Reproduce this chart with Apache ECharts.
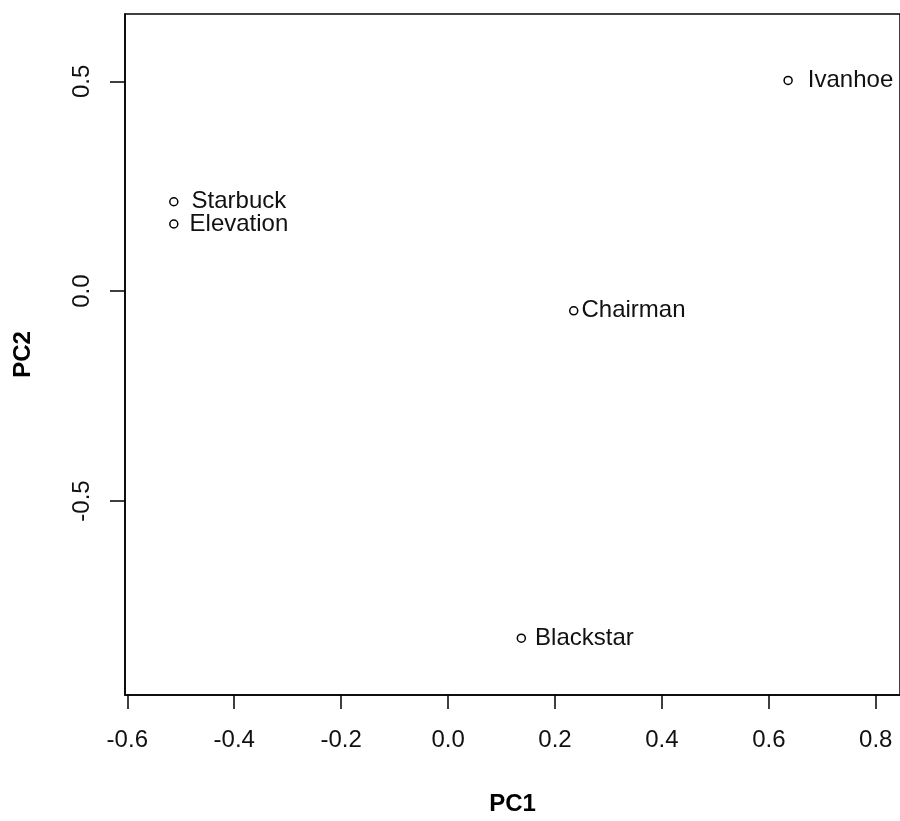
<!DOCTYPE html>
<html>
<head>
<meta charset="utf-8">
<script src="https://cdn.jsdelivr.net/npm/echarts@6/dist/echarts.min.js"></script>
<style>
html,body{margin:0;padding:0;background:#fff;}
#chart{width:900px;height:821px;}
</style>
</head>
<body>
<div id="chart"></div>
<script>
// ---- data ----
const names = ['Ivanhoe', 'Starbuck', 'Elevation', 'Chairman', 'Blackstar'];
const pc1 = [0.636, -0.513, -0.513, 0.235, 0.137];
const pc2 = [0.502, 0.213, 0.160, -0.047, -0.827];
const xTicks = [-0.6, -0.4, -0.2, 0.0, 0.2, 0.4, 0.6, 0.8];
const yTicks = [-0.5, 0.0, 0.5];
const xTitle = 'PC1';
const yTitle = 'PC2';

// ---- styling (label gaps per point) ----
const labelGap = {Ivanhoe: 15, Starbuck: 13, Elevation: 11, Chairman: 3, Blackstar: 9};

const FONT = '"Liberation Sans", Arial, sans-serif';
const points = names.map((n, i) => ({
  name: n,
  value: [pc1[i], pc2[i]],
  label: {distance: labelGap[n]}
}));

const chart = echarts.init(document.getElementById('chart'), null, {renderer: 'canvas'});
chart.setOption({
  animation: false,
  backgroundColor: '#fff',
  grid: {
    left: 125, top: 14, right: -5, bottom: 112,
    show: true, borderColor: '#000', borderWidth: 1.5, backgroundColor: 'transparent',
    containLabel: false
  },
  xAxis: {
    type: 'value',
    min: -0.6043, max: 0.8453,
    name: xTitle, nameLocation: 'middle', nameGap: 97,
    nameTextStyle: {fontFamily: FONT, fontSize: 24, fontWeight: 'bold', color: '#000'},
    axisLine: {show: true, onZero: false, lineStyle: {color: '#000', width: 1.5}},
    axisTick: {show: true, inside: false, length: 14, customValues: xTicks, lineStyle: {color: '#000', width: 1.5}},
    axisLabel: {
      show: true, customValues: xTicks, margin: 33,
      fontFamily: FONT, fontSize: 24, color: '#111',
      formatter: v => v.toFixed(1)
    },
    splitLine: {show: false}
  },
  yAxis: {
    type: 'value',
    min: -0.9624, max: 0.6604,
    name: yTitle, nameLocation: 'middle', nameGap: 90, nameRotate: 90,
    nameTextStyle: {fontFamily: FONT, fontSize: 24, fontWeight: 'bold', color: '#000'},
    axisLine: {show: true, onZero: false, lineStyle: {color: '#000', width: 1.5}},
    axisTick: {show: true, inside: false, length: 15, customValues: yTicks, lineStyle: {color: '#000', width: 1.5}},
    axisLabel: {
      show: true, customValues: yTicks, margin: 31, rotate: 90,
      fontFamily: FONT, fontSize: 24, color: '#111',
      formatter: v => v.toFixed(1)
    },
    splitLine: {show: false}
  },
  series: [{
    type: 'scatter',
    symbol: 'circle',
    symbolSize: 8,
    itemStyle: {color: '#fff', borderColor: '#000', borderWidth: 1.5, opacity: 1},
    label: {
      show: true, position: 'right',
      formatter: p => p.name,
      fontFamily: FONT, fontSize: 24, color: '#111'
    },
    emphasis: {disabled: true},
    data: points
  }]
});
</script>
</body>
</html>
